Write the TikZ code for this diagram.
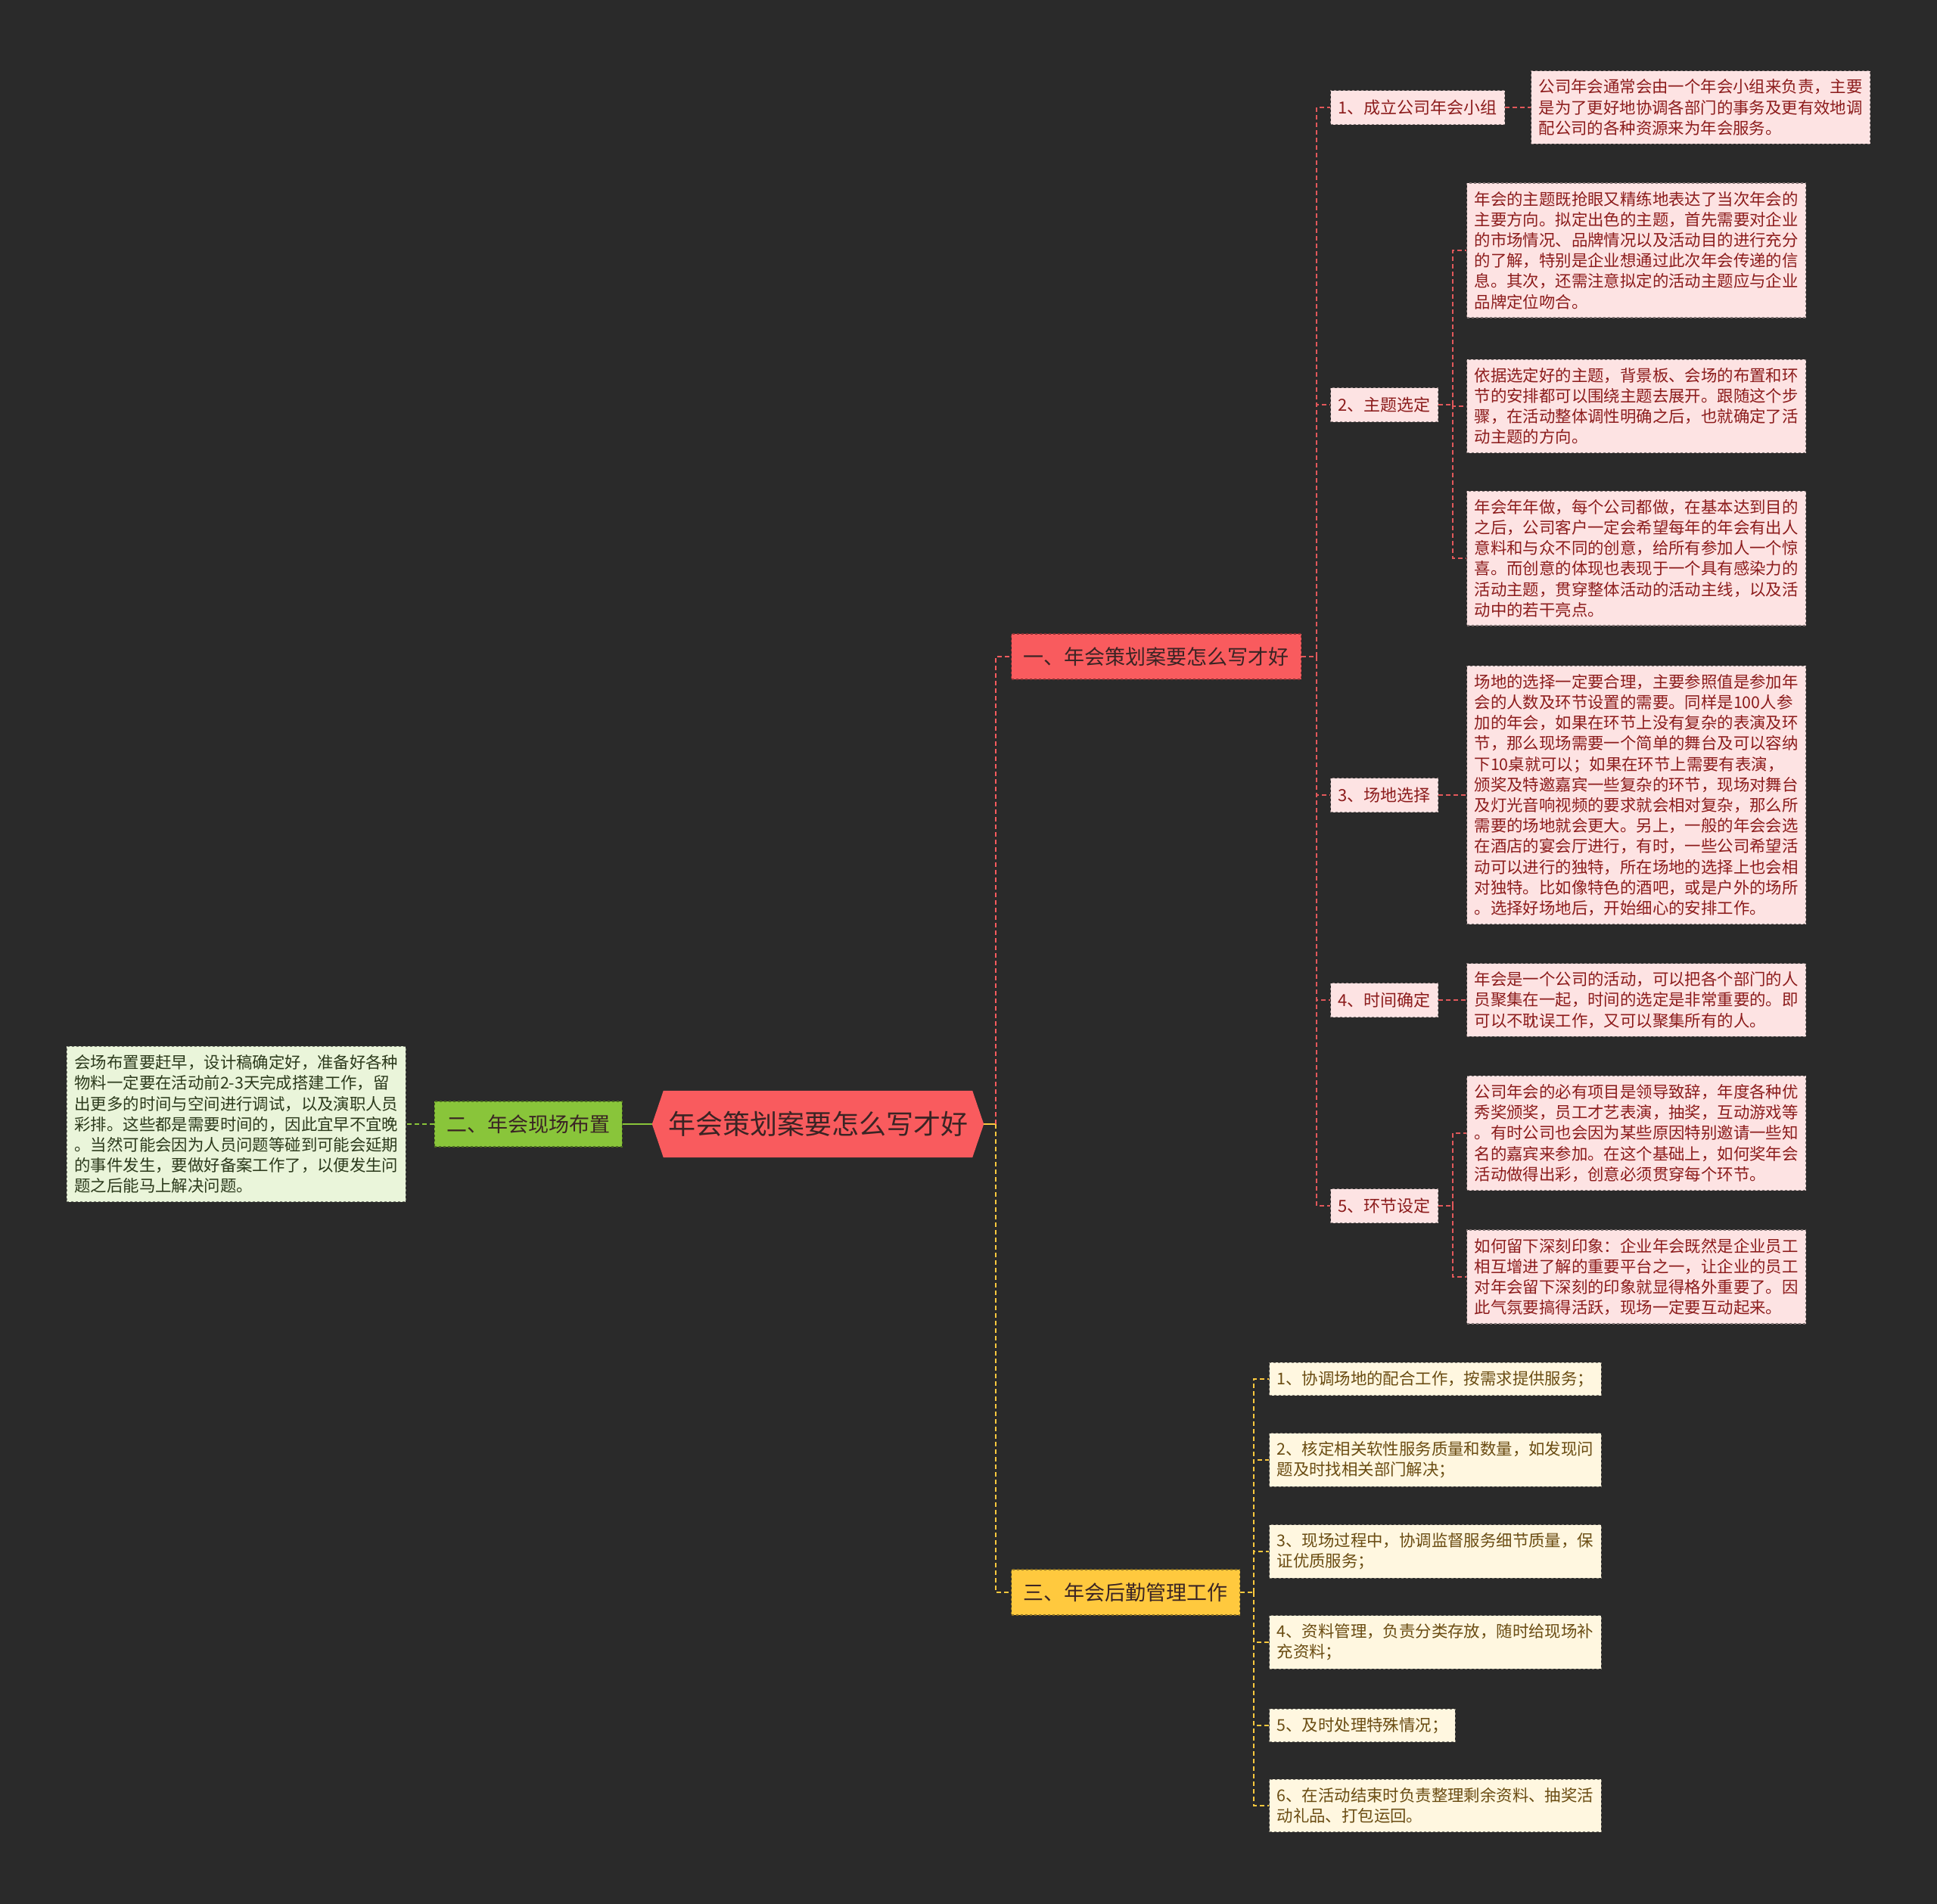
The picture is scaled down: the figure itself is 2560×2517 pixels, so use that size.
\documentclass[tikz,border=0pt]{standalone}
\usepackage{fontspec}
\setmainfont{Noto Sans CJK SC}
\definecolor{bgdark}{HTML}{2A2A2A}
\definecolor{rootred}{HTML}{F95B5E}
\definecolor{redline}{HTML}{E2585B}
\definecolor{redleaf}{HTML}{FDE3E3}
\definecolor{redtext}{HTML}{8C1C1C}
\definecolor{topgreen}{HTML}{89C53A}
\definecolor{greenleaf}{HTML}{EAF5DA}
\definecolor{greentext}{HTML}{2C3A1C}
\definecolor{topyellow}{HTML}{FFC93E}
\definecolor{yellowleaf}{HTML}{FFF7E0}
\definecolor{yellowtext}{HTML}{6A4C12}
\definecolor{darktext}{HTML}{3A2424}
\tikzset{
  topic/.style={rectangle, draw=#1!55!black, dashed, line width=1.2pt, fill=#1,
    text=darktext, font=\fontsize{27}{32}\selectfont, inner xsep=16pt, minimum height=60pt},
  subtopic/.style={rectangle, draw=redleaf!55!black, dashed, line width=1.2pt, fill=redleaf,
    text=redtext, font=\fontsize{22}{27}\selectfont, inner xsep=10pt, minimum height=45pt},
  leafbox/.style={rectangle, draw=#1!50!black, dashed, line width=1.2pt, fill=#1,
    font=\fontsize{21.4}{27.2}\selectfont, align=left, inner xsep=10pt, inner ysep=11pt},
  link/.style={draw=#1, line width=2.2pt, dash pattern=on 6pt off 4pt},
  solidlink/.style={draw=#1, line width=2.5pt}
}
\begin{document}
\begin{tikzpicture}[x=1pt,y=-1pt]
\fill[bgdark] (0,0) rectangle (2560,2517);
\useasboundingbox (0,0) rectangle (2560,2517);

% root
\node[minimum width=438pt, minimum height=88pt, inner sep=0pt] (root) at (1081,1486) {};
\fill[rootred] (root.west) -- ([xshift=15pt]root.north west) -- ([xshift=-15pt]root.north east)
  -- (root.east) -- ([xshift=-15pt]root.south east) -- ([xshift=15pt]root.south west) -- cycle;
\node[text=darktext, font=\fontsize{36}{40}\selectfont] at (root) {年会策划案要怎么写才好};

% main branches
\node[topic=rootred, anchor=west] (one) at (1336,868) {一、年会策划案要怎么写才好};
\node[topic=topgreen, anchor=east] (two) at (823,1486) {二、年会现场布置};
\node[topic=topyellow, anchor=west] (three) at (1336,2105) {三、年会后勤管理工作};

% branch one
\node[subtopic, anchor=west] (s1) at (1758,142) {1、成立公司年会小组};
\node[subtopic, anchor=west] (s2) at (1758,535) {2、主题选定};
\node[subtopic, anchor=west] (s3) at (1758,1051) {3、场地选择};
\node[subtopic, anchor=west] (s4) at (1758,1322) {4、时间确定};
\node[subtopic, anchor=west] (s5) at (1758,1594) {5、环节设定};

\node[leafbox=redleaf, text=redtext, anchor=west] (s1leaf) at (2023,142)
  {公司年会通常会由一个年会小组来负责，主要\\是为了更好地协调各部门的事务及更有效地调\\配公司的各种资源来为年会服务。};
\node[leafbox=redleaf, text=redtext, anchor=west] (s2a) at (1938,331)
  {年会的主题既抢眼又精练地表达了当次年会的\\主要方向。拟定出色的主题，首先需要对企业\\的市场情况、品牌情况以及活动目的进行充分\\的了解，特别是企业想通过此次年会传递的信\\息。其次，还需注意拟定的活动主题应与企业\\品牌定位吻合。};
\node[leafbox=redleaf, text=redtext, anchor=west] (s2b) at (1938,537)
  {依据选定好的主题，背景板、会场的布置和环\\节的安排都可以围绕主题去展开。跟随这个步\\骤，在活动整体调性明确之后，也就确定了活\\动主题的方向。};
\node[leafbox=redleaf, text=redtext, anchor=west] (s2c) at (1938,738)
  {年会年年做，每个公司都做，在基本达到目的\\之后，公司客户一定会希望每年的年会有出人\\意料和与众不同的创意，给所有参加人一个惊\\喜。而创意的体现也表现于一个具有感染力的\\活动主题，贯穿整体活动的活动主线，以及活\\动中的若干亮点。};
\node[leafbox=redleaf, text=redtext, anchor=west] (s3leaf) at (1938,1051)
  {场地的选择一定要合理，主要参照值是参加年\\会的人数及环节设置的需要。同样是100人参\\加的年会，如果在环节上没有复杂的表演及环\\节，那么现场需要一个简单的舞台及可以容纳\\下10桌就可以；如果在环节上需要有表演，\\颁奖及特邀嘉宾一些复杂的环节，现场对舞台\\及灯光音响视频的要求就会相对复杂，那么所\\需要的场地就会更大。另上，一般的年会会选\\在酒店的宴会厅进行，有时，一些公司希望活\\动可以进行的独特，所在场地的选择上也会相\\对独特。比如像特色的酒吧，或是户外的场所\\。选择好场地后，开始细心的安排工作。};
\node[leafbox=redleaf, text=redtext, anchor=west] (s4leaf) at (1938,1322)
  {年会是一个公司的活动，可以把各个部门的人\\员聚集在一起，时间的选定是非常重要的。即\\可以不耽误工作，又可以聚集所有的人。};
\node[leafbox=redleaf, text=redtext, anchor=west] (s5a) at (1938,1498)
  {公司年会的必有项目是领导致辞，年度各种优\\秀奖颁奖，员工才艺表演，抽奖，互动游戏等\\。有时公司也会因为某些原因特别邀请一些知\\名的嘉宾来参加。在这个基础上，如何奖年会\\活动做得出彩，创意必须贯穿每个环节。};
\node[leafbox=redleaf, text=redtext, anchor=west] (s5b) at (1938,1688)
  {如何留下深刻印象：企业年会既然是企业员工\\相互增进了解的重要平台之一，让企业的员工\\对年会留下深刻的印象就显得格外重要了。因\\此气氛要搞得活跃，现场一定要互动起来。};

% branch two
\node[leafbox=greenleaf, text=greentext, anchor=east] (twoleaf) at (537,1486)
  {会场布置要赶早，设计稿确定好，准备好各种\\物料一定要在活动前2-3天完成搭建工作，留\\出更多的时间与空间进行调试，以及演职人员\\彩排。这些都是需要时间的，因此宜早不宜晚\\。当然可能会因为人员问题等碰到可能会延期\\的事件发生，要做好备案工作了，以便发生问\\题之后能马上解决问题。};

% branch three
\node[leafbox=yellowleaf, text=yellowtext, anchor=west] (y1) at (1677,1823)
  {1、协调场地的配合工作，按需求提供服务；};
\node[leafbox=yellowleaf, text=yellowtext, anchor=west] (y2) at (1677,1930)
  {2、核定相关软性服务质量和数量，如发现问\\题及时找相关部门解决；};
\node[leafbox=yellowleaf, text=yellowtext, anchor=west] (y3) at (1677,2051)
  {3、现场过程中，协调监督服务细节质量，保\\证优质服务；};
\node[leafbox=yellowleaf, text=yellowtext, anchor=west] (y4) at (1677,2171)
  {4、资料管理，负责分类存放，随时给现场补\\充资料；};
\node[leafbox=yellowleaf, text=yellowtext, anchor=west] (y5) at (1677,2281)
  {5、及时处理特殊情况；};
\node[leafbox=yellowleaf, text=yellowtext, anchor=west] (y6) at (1677,2387)
  {6、在活动结束时负责整理剩余资料、抽奖活\\动礼品、打包运回。};

% connectors
\coordinate (jroot) at (1316,1486);
\coordinate (jone) at (1740,868);
\coordinate (jtwo) at (1920,535);
\coordinate (jfive) at (1920,1594);
\coordinate (jthree) at (1657,2105);

\draw[solidlink=topyellow] (root.east) -- (jroot);
\draw[link=rootred] (jroot) |- (one.west);
\draw[link=topyellow] (jroot) |- (three.west);
\draw[solidlink=topgreen] (root.west) -- (two.east);
\draw[link=topgreen] (two.west) -- (twoleaf.east);

\draw[link=redline] (one.east) -- (jone);
\draw[link=redline] (jone) |- (s1.west);
\draw[link=redline] (jone) |- (s2.west);
\draw[link=redline] (jone) |- (s3.west);
\draw[link=redline] (jone) |- (s4.west);
\draw[link=redline] (jone) |- (s5.west);
\draw[link=redline] (s1.east) -- (s1leaf.west);
\draw[link=redline] (s2.east) -- (jtwo);
\draw[link=redline] (jtwo) |- (s2a.west);
\draw[link=redline] (jtwo) |- (s2b.west);
\draw[link=redline] (jtwo) |- (s2c.west);
\draw[link=redline] (s3.east) -- (s3leaf.west);
\draw[link=redline] (s4.east) -- (s4leaf.west);
\draw[link=redline] (s5.east) -- (jfive);
\draw[link=redline] (jfive) |- (s5a.west);
\draw[link=redline] (jfive) |- (s5b.west);

\draw[link=topyellow] (three.east) -- (jthree);
\draw[link=topyellow] (jthree) |- (y1.west);
\draw[link=topyellow] (jthree) |- (y2.west);
\draw[link=topyellow] (jthree) |- (y3.west);
\draw[link=topyellow] (jthree) |- (y4.west);
\draw[link=topyellow] (jthree) |- (y5.west);
\draw[link=topyellow] (jthree) |- (y6.west);
\end{tikzpicture}
\end{document}
